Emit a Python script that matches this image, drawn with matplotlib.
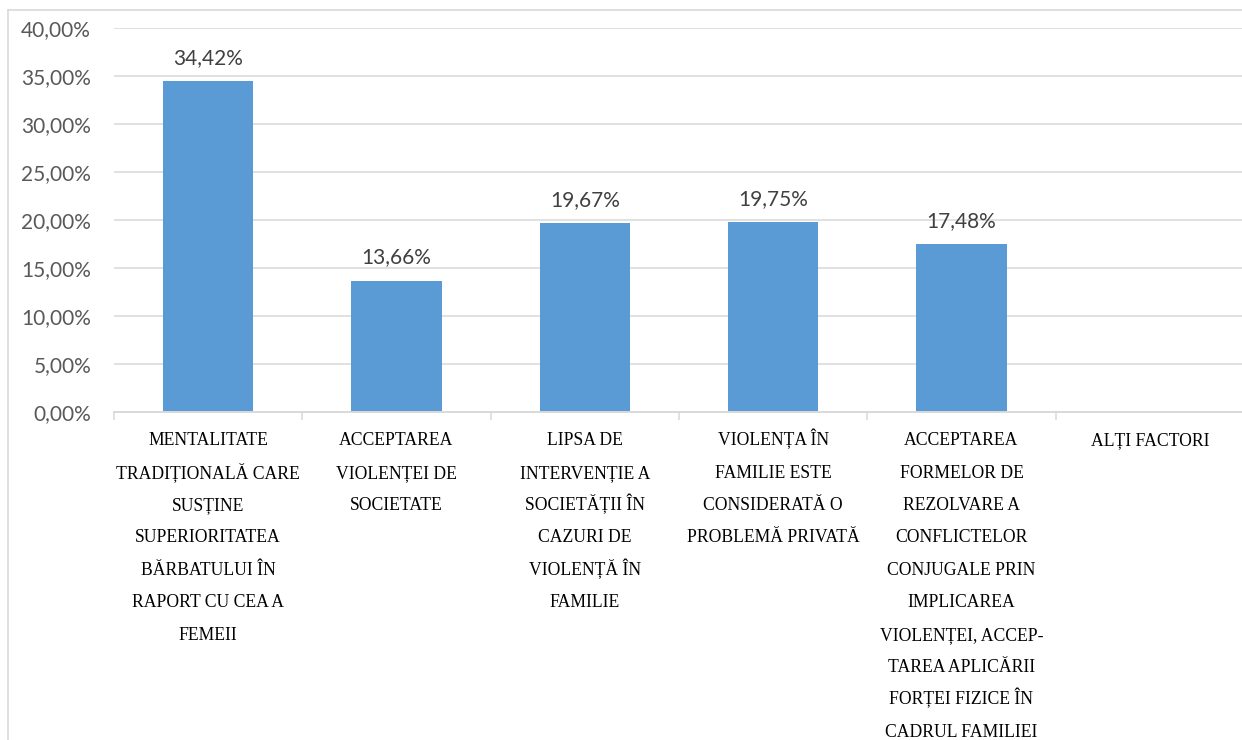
import numpy as np
import matplotlib.pyplot as plt
from matplotlib.lines import Line2D
from matplotlib.ticker import FuncFormatter, FixedLocator

categories = [
    ['MENTALITATE', 'TRADIȚIONALĂ CARE', 'SUSȚINE', 'SUPERIORITATEA',
     'BĂRBATULUI ÎN', 'RAPORT CU CEA A', 'FEMEII'],
    ['ACCEPTAREA', 'VIOLENȚEI DE', 'SOCIETATE'],
    ['LIPSA DE', 'INTERVENȚIE A', 'SOCIETĂȚII ÎN', 'CAZURI DE',
     'VIOLENȚĂ ÎN', 'FAMILIE'],
    ['VIOLENȚA ÎN', 'FAMILIE ESTE', 'CONSIDERATĂ O', 'PROBLEMĂ PRIVATĂ'],
    ['ACCEPTAREA', 'FORMELOR DE', 'REZOLVARE A', 'CONFLICTELOR',
     'CONJUGALE PRIN', 'IMPLICAREA', 'VIOLENȚEI, ACCEP-', 'TAREA APLICĂRII',
     'FORȚEI FIZICE ÎN', 'CADRUL FAMILIEI'],
    ['ALȚI FACTORI'],
]
values = [34.42, 13.66, 19.67, 19.75, 17.48, 0.0]
value_labels = ['34,42%', '13,66%', '19,67%', '19,75%', '17,48%', '']
yticks = [0, 5, 10, 15, 20, 25, 30, 35, 40]

W, H = 1242, 740
fig = plt.figure(figsize=(W / 100, H / 100), dpi=100)

# plot box in pixels: x 114..1244, y 27.7..411.7 (from top)
ax = fig.add_axes([114 / W, (H - 411.7) / H, 1130 / W, 384 / H])

x = np.arange(len(categories))
ax.bar(x, values, width=0.48, color='#5B9BD5', zorder=3)

for xi, v, lab in zip(x, values, value_labels):
    if lab:
        ax.annotate(lab, (xi, v), xytext=(0, 17), textcoords='offset pixels',
                    ha='center', va='baseline', fontsize=15, family='Lato',
                    color='#404040')

ax.set_xlim(-0.5, len(categories) - 0.5)
ax.set_ylim(0, 40)
ax.yaxis.set_major_locator(FixedLocator(yticks))
ax.yaxis.set_major_formatter(FuncFormatter(lambda v, p: f'{v:.2f}'.replace('.', ',') + '%'))
ax.grid(axis='y', color='#d9d9d9', linewidth=1.1, zorder=0)
ax.tick_params(axis='y', length=0, pad=16.5, labelsize=15, labelcolor='#595959')
for t in ax.get_yticklabels():
    t.set_family('Lato')

ax.set_xticks(np.arange(-0.5, len(categories), 1.0))
ax.set_xticklabels([])
ax.tick_params(axis='x', direction='out', length=6, width=1.1, color='#d9d9d9')

for s in ['top', 'right', 'left']:
    ax.spines[s].set_visible(False)
ax.spines['bottom'].set_color('#d9d9d9')
ax.spines['bottom'].set_linewidth(1.4)
ax.spines['bottom'].set_zorder(4)

# category labels, one line at a time for even spacing
for xi, lines in zip(x, categories):
    for i, line in enumerate(lines):
        ax.annotate(line, (xi, 0), xytext=(0, -33.5 - i * 32.4),
                    textcoords='offset pixels', ha='center', va='baseline',
                    fontsize=12.7, family='Liberation Serif', color='black',
                    annotation_clip=False)

# chart area border
fig.add_artist(Line2D([8 / W, 1], [1 - 10 / H, 1 - 10 / H], color='#d9d9d9', linewidth=1.2))
fig.add_artist(Line2D([8 / W, 8 / W], [0, 1 - 10 / H], color='#d9d9d9', linewidth=1.2))

fig.savefig('out.png', dpi=100)
